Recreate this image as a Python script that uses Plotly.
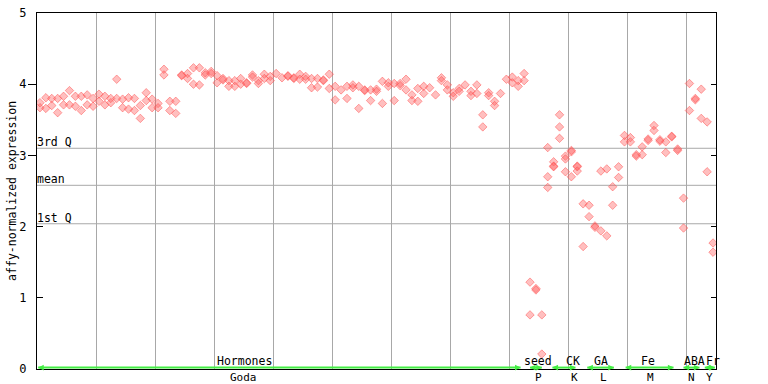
import plotly.graph_objects as go

# ---------------- data ----------------
N = 115
rep1 = [3.74, 3.81, 3.80, 3.80, 3.83, 3.91, 3.83, 3.83, 3.85, 3.80,
        3.86, 3.83, 3.80, 4.07, 3.79, 3.81, 3.80, 3.70, 3.88, 3.79,
        3.73, 4.21, 3.76, 3.76, 4.13, 4.15, 4.23, 4.23, 4.16, 4.18,
        4.12, 4.08, 4.05, 4.05, 4.08, 4.02, 4.13, 4.05, 4.14, 4.11,
        4.15, 4.09, 4.12, 4.09, 4.14, 4.11, 4.08, 4.08, 4.06, 4.14,
        3.97, 3.92, 3.97, 3.99, 3.97, 3.92, 3.92, 3.93, 4.04, 4.02,
        4.01, 4.01, 4.07, 3.85, 3.94, 3.97, 3.95, 3.85, 4.09, 3.99,
        3.88, 3.94, 3.99, 3.90, 3.99, 3.57, 3.88, 3.76, 3.87, 4.07,
        4.10, 4.05, 4.15, 1.22, 1.13, 0.76, 3.11, 2.91, 3.57, 2.99,
        3.07, 2.85, 2.32, 2.30, 2.01, 2.78, 2.81, 2.56, 2.84, 3.28,
        3.25, 3.01, 3.12, 3.23, 3.42, 3.22, 3.19, 3.27, 3.09, 2.40,
        4.01, 3.80, 3.93, 3.47, 1.77]
rep2 = [3.67, 3.66, 3.70, 3.60, 3.71, 3.71, 3.69, 3.63, 3.71, 3.69,
        3.76, 3.71, 3.74, 3.80, 3.67, 3.65, 3.63, 3.52, 3.77, 3.67,
        3.67, 4.13, 3.63, 3.59, 4.12, 4.08, 4.00, 3.99, 4.13, 4.15,
        4.02, 4.06, 3.97, 3.97, 4.00, 4.01, 4.10, 4.01, 4.08, 4.05,
        None, None, 4.11, 4.08, 4.07, 4.07, 3.95, 3.96, 4.05, 3.94,
        3.78, None, 3.80, 3.95, 3.66, 3.91, 3.77, 3.90, 3.73, 3.97,
        3.77, 3.98, 3.92, 3.77, 3.76, 3.87, None, None, 4.05, 3.92,
        3.83, 3.90, None, 3.84, 3.87, 3.40, 3.84, 3.70, None, None,
        4.02, 3.97, 4.05, 0.76, 1.11, 0.21, 2.70, 2.85, 3.40, 2.95,
        3.05, 2.84, 1.72, 2.14, 1.99, 1.94, 1.87, 2.30, 2.69, 3.19,
        3.19, 2.99, 3.01, 3.21, 3.35, 3.20, 3.04, 3.26, 3.07, 1.98,
        3.63, 3.78, 3.52, 2.77, 1.64]
rep3 = {86: 2.55, 87: 2.84, 88: 3.24, 89: 2.77, 90: 2.70, 91: 2.78}

quartile_names = ["3rd Q", "mean", "1st Q"]
quartile_values = [3.10, 2.58, 2.04]

group_top = ["Hormones", "seed", "CK", "GA", "Fe", "ABA", "Fr"]
group_bottom = ["Goda", "P", "K", "L", "M", "N", "Y"]
group_top_pos = [34.7, 84.3, 90.2, 95.1, 103.0, 110.8, 114.0]
group_bottom_pos = [34.4, 84.5, 90.6, 95.5, 103.4, 110.4, 113.4]
group_span = [(-0.3, 81.4), (83.0, 85.0), (86.8, 90.7), (92.7, 97.2),
              (99.2, 107.3), (109.0, 111.7), (112.6, 114.3)]

# ---------------- figure ----------------
xs, ys = [], []
for i in range(N):
    for v in (rep1[i], rep2[i], rep3.get(i)):
        if v is not None:
            xs.append(i)
            ys.append(v)

FONT = "DejaVu Sans Mono"
fig = go.Figure()
fig.add_trace(go.Scatter(
    x=xs, y=ys, mode="markers",
    marker=dict(symbol="diamond", size=6.5, color="rgba(255,95,95,0.4)",
                line=dict(width=0.8, color="rgba(255,70,70,0.6)")),
    hoverinfo="x+y", showlegend=False))

shapes = []
annotations = []
for name, val in zip(quartile_names, quartile_values):
    shapes.append(dict(type="line", xref="paper", yref="y", x0=0, x1=1,
                       y0=val, y1=val, line=dict(color="#a8a8a8", width=1),
                       layer="below"))
    annotations.append(dict(xref="paper", yref="y", x=0, y=val, text=name,
                            showarrow=False, xanchor="left", yanchor="bottom",
                            xshift=-2, yshift=-3,
                            font=dict(family=FONT, size=11.5, color="black")))

green = "#44ee44"
for (a, b) in group_span:
    shapes.append(dict(type="line", xref="x", yref="paper", x0=a, x1=b,
                       y0=0.004, y1=0.004, line=dict(color=green, width=2)))
    annotations.append(dict(xref="x", yref="paper", x=a, y=0.004, ax=6, ay=0,
                            text="", showarrow=True, arrowhead=2,
                            arrowsize=0.7, arrowwidth=1.6, arrowcolor=green))
    annotations.append(dict(xref="x", yref="paper", x=b, y=0.004, ax=-6, ay=0,
                            text="", showarrow=True, arrowhead=2,
                            arrowsize=0.7, arrowwidth=1.6, arrowcolor=green))

for t, p in zip(group_top, group_top_pos):
    annotations.append(dict(xref="x", yref="paper", x=p, y=0, text=t,
                            showarrow=False, xanchor="center", yanchor="bottom",
                            yshift=-1,
                            font=dict(family=FONT, size=11.5, color="black")))
for t, p in zip(group_bottom, group_bottom_pos):
    annotations.append(dict(xref="x", yref="paper", x=p, y=0, text=t,
                            showarrow=False, xanchor="center", yanchor="top",
                            yshift=0,
                            font=dict(family=FONT, size=11, color="black")))

annotations.append(dict(xref="paper", yref="paper", x=-0.037, y=0.5,
                        text="affy-normalized expression", textangle=-90,
                        showarrow=False, xanchor="center", yanchor="middle",
                        font=dict(family=FONT, size=11.5, color="black")))

fig.update_layout(
    template="none",
    width=768, height=384,
    margin=dict(l=37, r=52, t=13, b=15, pad=0, autoexpand=False),
    paper_bgcolor="white", plot_bgcolor="white",
    font=dict(family=FONT, size=11.5, color="black"),
    showlegend=False,
    shapes=shapes, annotations=annotations,
    xaxis=dict(range=[-0.5, 114.5], tick0=9.5, dtick=10, showgrid=True,
               gridcolor="#a8a8a8", gridwidth=1, showticklabels=False,
               ticks="", zeroline=False, showline=True, linecolor="black",
               linewidth=1, mirror=True, automargin=False),
    yaxis=dict(range=[0, 5], tickvals=[0, 1, 2, 3, 4, 5], ticks="",
               showgrid=False, zeroline=False, showline=True,
               linecolor="black", linewidth=1, ticklabelstandoff=7,
               ticklabeloverflow="allow", automargin=False,
               tickfont=dict(family=FONT, size=12, color="black")),
    yaxis2=dict(range=[0, 5], overlaying="y", side="right",
                tickvals=[1, 2, 3, 4], ticks="inside", ticklen=5,
                tickcolor="black", showticklabels=False, showgrid=False,
                zeroline=False, showline=True, linecolor="black",
                automargin=False),
    yaxis3=dict(range=[0, 5], overlaying="y", side="left",
                tickvals=[3, 4], ticks="outside", ticklen=8,
                tickcolor="black", showticklabels=False, showgrid=False,
                zeroline=False, showline=False, automargin=False),
    yaxis4=dict(range=[0, 5], overlaying="y", side="left",
                tickvals=[1, 2], ticks="inside", ticklen=6,
                tickcolor="black", showticklabels=False, showgrid=False,
                zeroline=False, showline=False, automargin=False),
)
for ax in ["y2", "y3", "y4"]:
    fig.add_trace(go.Scatter(x=[None], y=[None], yaxis=ax, showlegend=False,
                             hoverinfo="skip"))

# remove the browser's default 8px body margin so the figure sits at (0, 0)
fig.write_html("out.html",
               config={"displayModeBar": False},
               post_script="document.body.style.margin='0';"
                           "document.body.style.padding='0';")
